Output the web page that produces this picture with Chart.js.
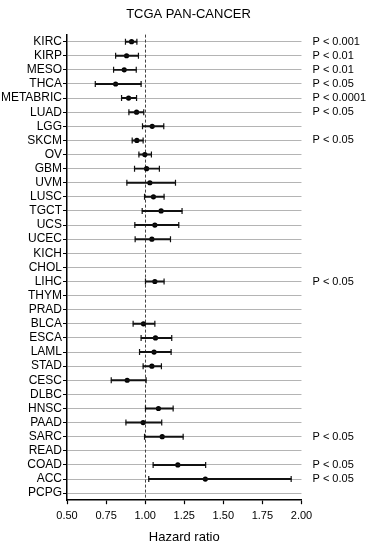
<!DOCTYPE html>
<html>
<head>
<meta charset="utf-8">
<script src="https://cdn.jsdelivr.net/npm/chart.js@4"></script>
<style>
  body { margin: 0; background: #fff; }
  #wrap { width: 370px; height: 550px; position: relative; }
</style>
</head>
<body>
<div id="wrap"><canvas id="chart"></canvas></div>
<script>
const cancers = ["KIRC","KIRP","MESO","THCA","METABRIC","LUAD","LGG","SKCM","OV","GBM","UVM","LUSC","TGCT","UCS","UCEC","KICH","CHOL","LIHC","THYM","PRAD","BLCA","ESCA","LAML","STAD","CESC","DLBC","HNSC","PAAD","SARC","READ","COAD","ACC","PCPG"];
const hazard = [0.913,0.881,0.866,0.811,0.894,0.945,1.045,0.947,0.998,1.009,1.030,1.053,1.102,1.062,1.043,null,null,1.062,null,null,0.989,1.066,1.057,1.043,0.885,null,1.085,0.987,1.109,null,1.209,1.385,null];
const lower  = [0.874,0.811,0.798,0.681,0.849,0.896,0.983,0.917,0.960,0.932,0.883,0.996,0.981,0.934,0.936,null,null,1.002,null,null,0.923,0.974,0.964,0.987,0.783,null,1.002,0.877,0.996,null,1.051,1.023,null];
const upper  = [0.947,0.957,0.943,0.974,0.945,0.991,1.119,0.987,1.040,1.091,1.194,1.121,1.236,1.215,1.162,null,null,1.121,null,null,1.062,1.170,1.166,1.104,1.006,null,1.179,1.106,1.243,null,1.387,1.934,null];
const pLabels = ["P < 0.001","P < 0.01","P < 0.01","P < 0.05","P < 0.0001","P < 0.05","","P < 0.05","","","","","","","","","","P < 0.05","","","","","","","","","","","P < 0.05","","P < 0.05","P < 0.05",""];
const xTicks = [0.5, 0.75, 1.0, 1.25, 1.5, 1.75, 2.0];
const refValue = 1.0;

const font = "'Liberation Sans', Arial, sans-serif";

function points(arr) {
  return cancers.map((c, i) => ({ x: arr[i], y: c })).filter(p => p.x != null);
}

// dashed reference line at HR = 1
const refLine = {
  id: "refLine",
  beforeDatasetsDraw(chart) {
    const { ctx, chartArea, scales } = chart;
    const x = Math.round(scales.x.getPixelForValue(refValue)) + 0.5;
    ctx.save();
    ctx.strokeStyle = "#444";
    ctx.lineWidth = 1;
    ctx.setLineDash([3, 2]);
    ctx.beginPath();
    ctx.moveTo(x, chartArea.top);
    ctx.lineTo(x, chartArea.bottom);
    ctx.stroke();
    ctx.restore();
  },
};

const ctx = document.getElementById("chart").getContext("2d");
new Chart(ctx, {
  type: "bar",
  plugins: [refLine],
  data: {
    labels: cancers,
    datasets: [
      {
        // confidence interval line
        data: lower.map((l, i) => (l == null ? null : [l, upper[i]])),
        backgroundColor: "#111",
        borderWidth: 0,
        barThickness: 1.3,
        xAxisID: "x",
        yAxisID: "y",
      },
      {
        type: "scatter",
        data: points(lower),
        pointStyle: "line",
        rotation: 90,
        radius: 3,
        borderColor: "#111",
        borderWidth: 1.2,
        xAxisID: "x",
        yAxisID: "y",
      },
      {
        type: "scatter",
        data: points(upper),
        pointStyle: "line",
        rotation: 90,
        radius: 3,
        borderColor: "#111",
        borderWidth: 1.2,
        xAxisID: "x",
        yAxisID: "y",
      },
      {
        type: "scatter",
        data: points(hazard),
        pointStyle: "circle",
        radius: 2.6,
        backgroundColor: "#000",
        borderColor: "#000",
        borderWidth: 0,
        xAxisID: "x",
        yAxisID: "y",
      },
    ],
  },
  options: {
    indexAxis: "y",
    responsive: true,
    maintainAspectRatio: false,
    animation: false,
    layout: { padding: { right: -7 } },
    plugins: {
      legend: { display: false },
      tooltip: { enabled: false },
      title: {
        display: true,
        text: "TCGA PAN-CANCER",
        color: "#000",
        font: { family: font, size: 13, weight: "normal" },
        padding: { top: 7, bottom: 12 },
      },
    },
    scales: {
      x: {
        type: "linear",
        min: 0.5,
        max: 2.0,
        afterBuildTicks: (s) => { s.ticks = xTicks.map(v => ({ value: v })); },
        ticks: {
          color: "#000",
          font: { family: font, size: 11 },
          padding: 5,
          callback: (v) => Number(v).toFixed(2),
        },
        grid: {
          drawOnChartArea: false,
          tickColor: "#000",
          tickLength: 4,
          tickWidth: 1.2,
        },
        border: { color: "#000", width: 1.5 },
        title: {
          display: true,
          text: "Hazard ratio",
          color: "#000",
          font: { family: font, size: 13 },
          padding: { top: 2, bottom: 5 },
        },
      },
      y: {
        type: "category",
        offset: true,
        afterFit: (s) => { s.width = 67; },
        ticks: {
          color: "#000",
          font: { family: font, size: 12 },
          padding: 1,
          autoSkip: false,
        },
        grid: {
          offset: false,
          color: "#b4b4b4",
          lineWidth: 1,
          tickColor: "#000",
          tickLength: 4,
          tickWidth: 1,
        },
        border: { color: "#000", width: 1.5 },
      },
      y2: {
        type: "category",
        position: "right",
        labels: pLabels,
        offset: true,
        ticks: {
          color: "#000",
          font: { family: font, size: 11 },
          padding: 11,
          autoSkip: false,
        },
        grid: { display: false, drawTicks: false, tickLength: 0 },
        border: { display: false },
      },
    },
  },
});
</script>
</body>
</html>
